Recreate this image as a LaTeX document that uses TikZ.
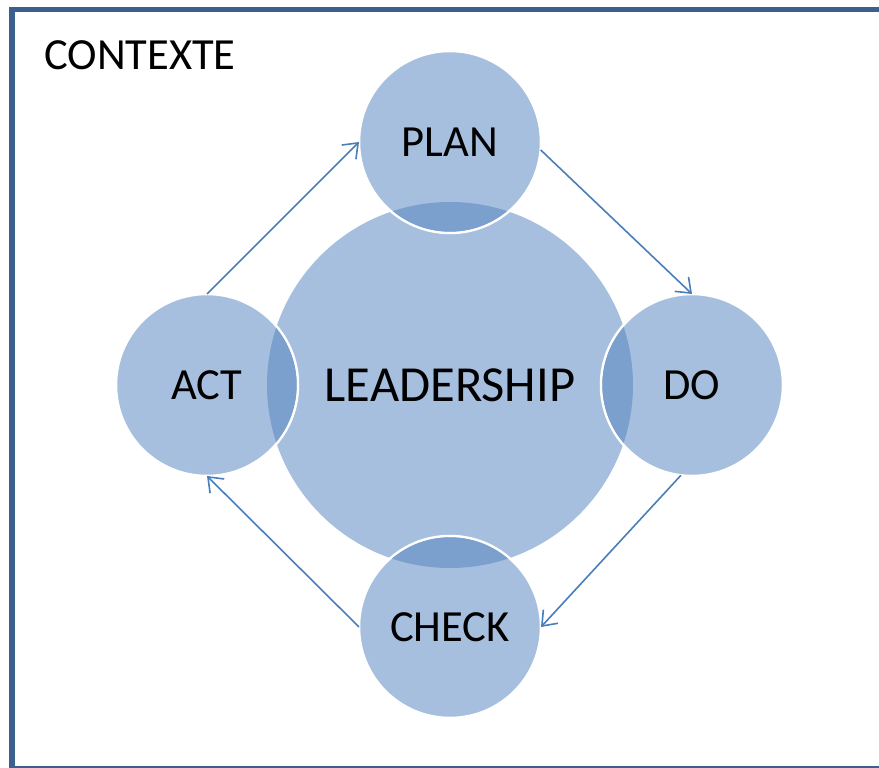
\documentclass[tikz,border=0pt]{standalone}
\usepackage{fontspec}
\setmainfont{Carlito}
\usetikzlibrary{positioning}
\usetikzlibrary{arrows.meta}

\definecolor{circlefill}{HTML}{A7BFDE}
\definecolor{overlapfill}{HTML}{7BA0CD}
\definecolor{framecol}{HTML}{3D5F8C}
\definecolor{arrowcol}{HTML}{4A7EBB}

\begin{document}
\begin{tikzpicture}[x=1pt, y=1pt]
    \tikzstyle{phase}=[circle, fill=circlefill, draw=white, line width=2.5pt,
      minimum size=182pt, inner sep=0pt, outer sep=0pt,
      font=\fontsize{44.5}{50}\selectfont]
    \tikzstyle{cycle}=[draw=arrowcol, line width=1.6pt,
      -{Straight Barb[length=13pt, width=20pt, line width=1.6pt]}]

    \useasboundingbox (0, 0) rectangle (879, 768);

    % Context frame
    \draw[framecol, line width=5.5pt] (12, -1) rectangle (895, 758.5);
    \node[anchor=base west, inner sep=0pt, font=\fontsize{44.5}{50}\selectfont]
      (ctx) at (44, 698) {CONTEXTE};

    % Leadership
    \node[circle, fill=circlefill, minimum size=366pt, inner sep=0pt]
      (lead) at (450, 383) {};

    % PDCA phases
    \node[phase, above=243pt of lead.center, anchor=center] (plan) {PLAN};
    \node[phase, right=242pt of lead.center, anchor=center] (do) {DO};
    \node[phase, below=242pt of lead.center, anchor=center] (check) {CHECK};
    \node[phase, left=243pt of lead.center, anchor=center] (act) {ACT};

    % Overlaps with leadership
    \begin{scope}
      \clip (lead.center) circle[radius=183];
      \foreach \p in {plan, do, check, act}
        \fill[overlapfill] (\p.center) circle[radius=89.7];
    \end{scope}
    \node[font=\fontsize{50.5}{56}\selectfont] at (lead.center) {LEADERSHIP};

    % Cycle
    \draw[cycle] (act.north) -- (plan.west);
    \draw[cycle] (plan.-5) -- (do.north);
    \draw[cycle] (do.-97) -- (check.east);
    \draw[cycle] (check.west) -- (act.south);
\end{tikzpicture}
\end{document}
